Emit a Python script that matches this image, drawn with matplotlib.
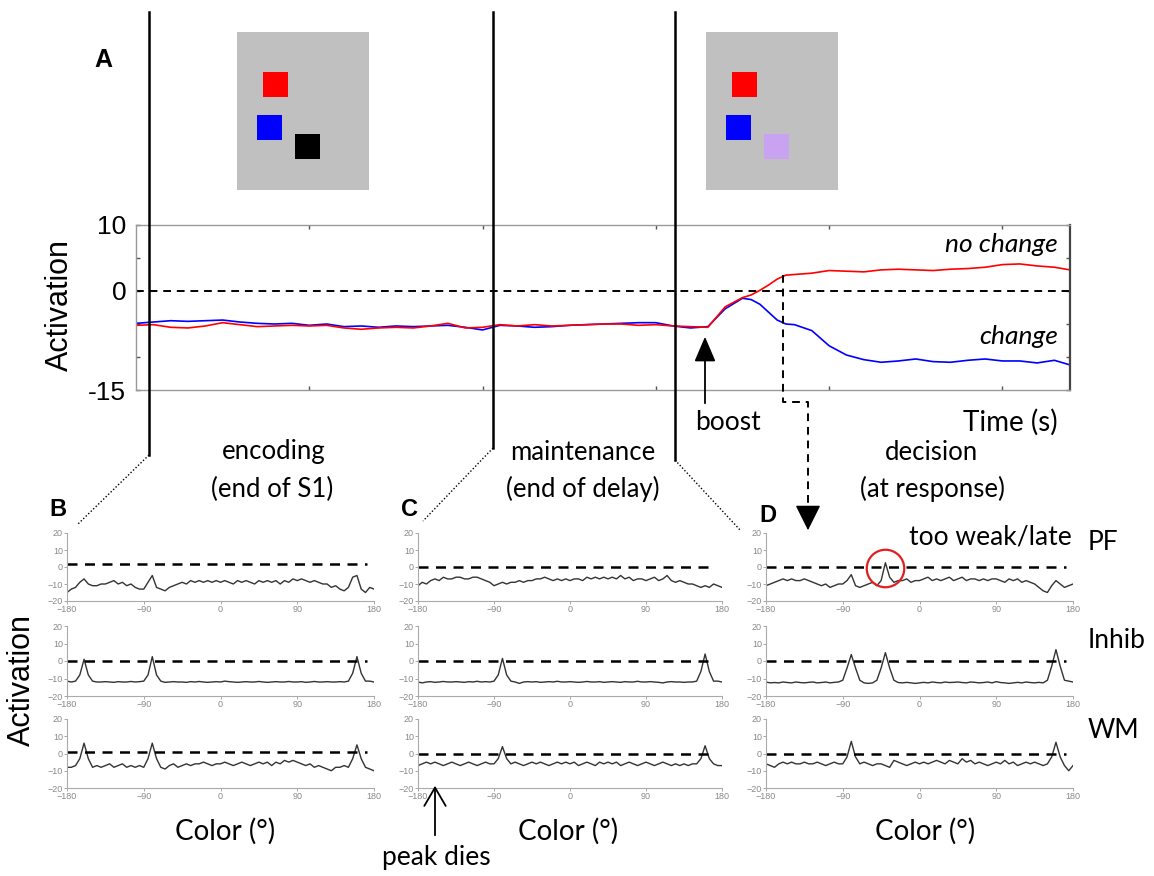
import matplotlib
matplotlib.use('Agg')
import matplotlib.pyplot as plt
from matplotlib.patches import Rectangle, FancyArrowPatch
from matplotlib.lines import Line2D

plt.rcParams['font.family'] = ['Liberation Sans', 'DejaVu Sans']

# ---------------- data ----------------
time_s = [0.0, 0.1, 0.2, 0.3, 0.4, 0.5, 0.6, 0.7, 0.8, 0.9,
          1.0, 1.1, 1.2, 1.3, 1.4, 1.5, 1.6, 1.7, 1.8, 1.9,
          2.0, 2.1, 2.2, 2.3, 2.4, 2.5, 2.6, 2.7, 2.8, 2.9,
          3.0, 3.1, 3.2, 3.3, 3.4, 3.5, 3.55, 3.6, 3.65, 3.7,
          3.75, 3.8, 3.9, 4.0, 4.1, 4.2, 4.3, 4.4, 4.5, 4.6,
          4.7, 4.8, 4.9, 5.0, 5.1, 5.2, 5.3, 5.39]
act_change = [-4.9, -4.7, -4.5, -4.6, -4.5, -4.4, -4.7, -4.9, -5.0, -4.9,
              -5.2, -5.0, -5.4, -5.3, -5.5, -5.3, -5.4, -5.3, -5.2, -5.5,
              -5.9, -5.2, -5.3, -5.5, -5.4, -5.2, -5.1, -5.0, -4.9, -4.8,
              -4.8, -5.3, -5.6, -5.4, -2.7, -1.1, -1.3, -2.0, -3.2, -4.4,
              -5.0, -5.1, -6.0, -8.3, -9.7, -10.4, -10.8, -10.6, -10.3, -10.7,
              -10.8, -10.5, -10.3, -10.6, -10.6, -10.9, -10.5, -11.2]
act_nochange = [-5.2, -5.1, -5.5, -5.6, -5.3, -4.8, -5.1, -5.4, -5.3, -5.2,
                -5.3, -5.2, -5.6, -5.8, -5.6, -5.5, -5.6, -5.3, -4.9, -5.6,
                -5.5, -5.1, -5.3, -5.1, -5.3, -5.2, -5.1, -5.0, -5.0, -5.2,
                -5.1, -5.3, -5.4, -5.5, -2.4, -1.0, -0.6, 0.1, 0.9, 1.8,
                2.4, 2.5, 2.7, 3.1, 3.0, 2.9, 3.2, 3.3, 3.2, 3.1,
                3.3, 3.4, 3.6, 4.0, 4.1, 3.8, 3.6, 3.2]

color_deg = list(range(-180, 185, 5))
color_ticks = [-180, -90, 0, 90, 180]
act_ticks = [-20, -10, 0, 10, 20]

B_PF = [-15, -13, -12, -9, -7, -10, -11, -11, -10,
        -10, -9, -8, -10, -9, -11, -10, -12, -13,
        -13, -9, -5, -12, -13, -14, -12, -11, -10,
        -9, -10, -8, -9, -8, -9, -8, -9, -8,
        -9, -8, -9, -10, -8, -9, -8, -9, -10,
        -8, -9, -8, -9, -8, -10, -8, -9, -7,
        -8, -7, -8, -9, -8, -9, -10, -10, -12,
        -11, -13, -14, -12, -6, -5, -13, -15, -12,
        -13]
B_Inhib = [-11.5, -12, -11.5, -8, 1, -8, -11.5, -12, -12,
           -11.8, -12, -12.2, -11.8, -12, -12, -11.7, -12, -11.8,
           -11.5, -8, 2.5, -8, -11.5, -12.2, -12, -11.8, -12,
           -12, -12.2, -11.8, -12, -11.7, -12, -12.2, -12, -11.8,
           -12, -11.5, -11.8, -12, -12.2, -12, -11.8, -12, -12,
           -11.7, -12, -12.2, -12, -11.8, -12, -12, -11.7, -12,
           -12, -11.8, -12.2, -12, -11.7, -12, -12, -11.8, -12,
           -12, -11.8, -12, -11.5, -7, 2.5, -7, -11.5, -11.5,
           -12]
B_WM = [-8, -8, -7, -3, 6, -3, -8, -7, -8,
        -7, -6, -8, -7, -6, -8, -7, -8, -7,
        -8, -3, 6, -3, -8, -9, -7, -6, -8,
        -7, -6, -7, -6, -6, -5, -6, -7, -6,
        -6, -5, -6, -7, -6, -5, -6, -7, -6,
        -5, -6, -5, -7, -5, -6, -4, -5, -4,
        -5, -6, -7, -6, -8, -7, -8, -9, -10,
        -8, -8, -7, -8, -3, 5, -3, -8, -9,
        -10]
C_PF = [-11, -9, -10, -8, -7, -8, -6, -7, -7,
        -6, -6, -7, -7, -6, -6, -7, -8, -9,
        -11, -10, -9, -10, -9, -9, -8, -9, -8,
        -8, -7, -7, -6, -7, -8, -7, -8, -7,
        -8, -7, -7, -8, -6, -7, -6, -7, -6,
        -7, -6, -7, -5, -7, -6, -8, -7, -7,
        -8, -7, -6, -8, -7, -5, -8, -9, -8,
        -9, -10, -10, -11, -12, -11, -12, -10, -11,
        -12]
C_Inhib = [-12, -12.5, -12, -11.8, -12.2, -12, -11.7, -12, -12,
           -11.8, -12, -12.2, -11.8, -12, -11.6, -12, -11.8, -12,
           -11.5, -8, 1.5, -8, -11.5, -12, -12.8, -12, -11.8,
           -12, -11.8, -12.2, -12, -11.8, -12, -11.6, -12, -12,
           -11.8, -12, -12.2, -12, -11.7, -12, -12, -11.8, -12.2,
           -12, -11.8, -12, -12.2, -11.8, -12, -12, -11.6, -12,
           -12, -11.8, -12, -12.2, -12.5, -12, -11.8, -12, -12,
           -12.2, -12, -12, -11.5, -6, 4, -6, -11.5, -11.5,
           -12]
C_WM = [-7, -6, -5, -6, -5, -6, -7, -6, -5,
        -6, -7, -6, -5, -6, -7, -6, -5, -6,
        -6, -3, 4, -3, -6, -5, -6, -7, -6,
        -5, -6, -5, -6, -7, -6, -5, -6, -5,
        -6, -5, -7, -6, -5, -6, -7, -5, -6,
        -5, -6, -5, -7, -6, -5, -6, -7, -6,
        -5, -6, -7, -6, -5, -6, -7, -6, -7,
        -6, -7, -6, -6, -3, 4.5, -3, -6, -7,
        -7]
D_PF = [-11, -10, -9, -8, -7, -8, -7, -8, -8,
        -7, -8, -9, -10, -11, -10, -12, -11, -10,
        -10, -8, -4.5, -11, -12, -11, -10, -9, -11,
        -8, 2.5, -6, -9, -8, -8, -7, -9, -8,
        -8, -7, -6, -8, -7, -8, -7, -6, -8,
        -7, -6, -8, -7, -7, -8, -7, -8, -7,
        -7, -8, -9, -7, -8, -7, -9, -8, -9,
        -10, -12, -14, -15, -11, -8, -10, -12, -11,
        -10]
D_Inhib = [-12, -12.5, -12.3, -12.5, -12, -12.3, -12.5, -12, -12.3,
           -12.5, -12.2, -12, -12.5, -12.3, -12, -12.5, -12.2, -12,
           -11, -4, 3.7, -4, -11, -12.5, -12.8, -12.5, -11,
           -4, 4.8, -4, -11, -12.3, -12.5, -12.2, -12.5, -12.8,
           -12.5, -12.2, -12.5, -12, -12.3, -12.5, -12, -12.3, -12.2,
           -12, -12.3, -12.5, -12, -12.2, -12.5, -12.3, -12, -12.5,
           -11.8, -12.3, -12.5, -12.8, -12.5, -12.2, -12.5, -12, -12.3,
           -12.5, -12.2, -12.5, -11, -3, 6.5, -3, -11, -11.5,
           -12]
D_WM = [-6, -7, -8, -6, -5, -6, -5, -6, -6,
        -5, -6, -6, -5, -6, -7, -6, -5, -6,
        -6, -2, 7, -2, -6, -5, -6, -7, -6,
        -6, -7, -8, -4, -5, -6, -7, -6, -5,
        -6, -5, -6, -5, -4, -5, -6, -4, -5,
        -6, -3, -5, -4, -6, -5, -6, -7, -6,
        -5, -6, -4, -6, -5, -7, -6, -5, -6,
        -5, -6, -7, -6, -2, 6.5, -2, -7, -10,
        -7]

field_names = ['PF', 'Inhib', 'WM']
columns = [[B_PF, B_Inhib, B_WM], [C_PF, C_Inhib, C_WM], [D_PF, D_Inhib, D_WM]]
thresholds = [[1.5, 0, 1], [0, 0, 0], [0, 0, 0]]
threshold_end = 172

# ---------------- layout helpers ----------------
W, H = 1154, 876
fig = plt.figure(figsize=(W / 100, H / 100), dpi=100)
CAL = ['Lato', 'DejaVu Sans']
ARI = ['Liberation Sans', 'DejaVu Sans']


def fx(x):
    return x / W


def fy(y):
    return 1 - y / H


def box(l, t, r, b):
    return [l / W, 1 - b / H, (r - l) / W, (b - t) / H]


def fline(xs, ys, **kw):
    fig.add_artist(Line2D([fx(v) for v in xs], [fy(v) for v in ys],
                          transform=fig.transFigure, **kw))


def ftext(x, y, s, **kw):
    fig.text(fx(x), fy(y), s, **kw)


def farrow(p0, p1, style, scale, lw):
    fig.add_artist(FancyArrowPatch((fx(p0[0]), fy(p0[1])), (fx(p1[0]), fy(p1[1])),
                                   transform=fig.transFigure, arrowstyle=style,
                                   mutation_scale=scale, color='black', lw=lw))


# ---------------- panel A ----------------
axA = fig.add_axes(box(136, 225, 1070, 390))
axA.plot(time_s, act_change, color='#0000FF', lw=1.2)
axA.plot(time_s, act_nochange, color='#FF0000', lw=1.2)
axA.axhline(0, color='black', lw=1.4, ls=(0, (4, 3)))
axA.set_xlim(0, 5.39)
axA.set_ylim(-15, 10)
axA.set_xticks([1, 2, 3, 4, 5])
axA.set_xticklabels([])
axA.set_yticks([-15, -10, -5, 0, 5, 10])
axA.set_yticklabels(['-15', '', '', '0', '', '10'])
axA.tick_params(direction='in', top=True, right=True, length=3, width=1,
                color='#555555', labelsize=19, pad=7, labelfontfamily='Liberation Sans')
for side in ['left', 'top', 'bottom']:
    axA.spines[side].set_color('#999999')
    axA.spines[side].set_linewidth(1.0)
axA.spines['right'].set_color('#444444')
axA.spines['right'].set_linewidth(1.6)

ftext(60, 305, 'Activation', rotation=90, ha='center', va='center', fontsize=22, family=ARI)
ftext(103, 60, 'A', ha='center', va='center', fontsize=18, fontweight='bold', family=ARI)
ftext(1058, 245, 'no change', ha='right', va='center', fontsize=19, style='italic', family=CAL)
ftext(1058, 336, 'change', ha='right', va='center', fontsize=19, style='italic', family=CAL)
ftext(728, 422, 'boost', ha='center', va='center', fontsize=19, family=CAL)
ftext(1010, 422, 'Time (s)', ha='center', va='center', fontsize=20, family=CAL)
ftext(274, 452, 'encoding', ha='center', va='center', fontsize=18.5, family=CAL)
ftext(272, 489, '(end of S1)', ha='center', va='center', fontsize=18.5, family=CAL)
ftext(583, 452, 'maintenance', ha='center', va='center', fontsize=18.5, family=CAL)
ftext(583, 489, '(end of delay)', ha='center', va='center', fontsize=18.5, family=CAL)
ftext(932, 452, 'decision', ha='center', va='center', fontsize=18.5, family=CAL)
ftext(932, 489, '(at response)', ha='center', va='center', fontsize=18.5, family=CAL)

# boost arrow
farrow((705, 406), (705, 334), '-|>,head_length=0.7,head_width=0.3', 22, 1.3)

# dashed path to panel D
fline([783, 783, 808, 808], [275, 402, 402, 514], color='black', lw=1.4, ls=(0, (4, 3)))
farrow((808, 512), (808, 533), '-|>,head_length=0.8,head_width=0.4', 20, 1.0)

# event lines and zoom connectors
fline([149, 149], [12, 455], color='black', lw=1.8)
fline([493, 493], [12, 448], color='black', lw=1.8)
fline([675, 675], [12, 460], color='black', lw=1.8)
fline([149, 78], [455, 524], color='black', lw=1.0, ls=(0, (1, 1.5)))
fline([493, 423], [448, 521], color='black', lw=1.0, ls=(0, (1, 1.5)))
fline([675, 741], [460, 531], color='black', lw=1.0, ls=(0, (1, 1.5)))

# stimulus displays
for x0, third in [(237, '#000000'), (706, '#C9A3F2')]:
    fig.add_artist(Rectangle((fx(x0), fy(190)), 132 / W, 158 / H,
                             transform=fig.transFigure, color='#C0C0C0', lw=0))
    for dx, ytop, c in [(26, 72, '#FF0000'), (20, 115, '#0000FF'), (58, 134, third)]:
        fig.add_artist(Rectangle((fx(x0 + dx), fy(ytop + 25)), 25 / W, 25 / H,
                                 transform=fig.transFigure, color=c, lw=0))

# ---------------- panels B, C, D ----------------
col_px = [(67, 374), (418, 722), (766, 1073)]
row_px = [(533, 601), (626, 696), (719, 788)]
for ci, (l, r) in enumerate(col_px):
    for ri, (t, b) in enumerate(row_px):
        ax = fig.add_axes(box(l, t, r, b))
        ax.plot(color_deg, columns[ci][ri], color='#333333', lw=1.0)
        ax.plot([-180, threshold_end], [thresholds[ci][ri]] * 2, color='black',
                lw=1.8, ls=(0, (4, 3)))
        ax.set_xlim(-180, 180)
        ax.set_ylim(-20, 20)
        ax.set_xticks(color_ticks)
        ax.set_yticks(act_ticks)
        ax.tick_params(length=2, width=0.6, color='#999999', labelcolor='#888888',
                       labelsize=6.5, pad=1)
        for side in ['top', 'right']:
            ax.spines[side].set_visible(False)
        for side in ['left', 'bottom']:
            ax.spines[side].set_color('#AAAAAA')
            ax.spines[side].set_linewidth(0.8)
        ax.patch.set_alpha(0)
        if ci == 2 and ri == 0:
            ax.plot([-40], [-0.5], marker='o', ms=27, mfc='none', mec='#E02020',
                    mew=1.6, clip_on=False)

for x, y, lab in [(58, 509, 'B'), (410, 509, 'C'), (768, 516, 'D')]:
    ftext(x, y, lab, ha='center', va='center', fontsize=17, fontweight='bold', family=ARI)
for x in [225, 568, 925]:
    ftext(x, 831, 'Color (°)', ha='center', va='center', fontsize=20, family=CAL)
ftext(22, 680, 'Activation', rotation=90, ha='center', va='center', fontsize=22, family=ARI)
ftext(1088, 543, 'PF', ha='left', va='center', fontsize=19, family=CAL)
ftext(1088, 640, 'Inhib', ha='left', va='center', fontsize=19, family=CAL)
ftext(1088, 731, 'WM', ha='left', va='center', fontsize=19, family=CAL)
ftext(990, 537, 'too weak/late', ha='center', va='center', fontsize=19, family=CAL)
ftext(436, 858, 'peak dies', ha='center', va='center', fontsize=19, family=CAL)
farrow((435, 838), (435, 783), '->,head_length=0.6,head_width=0.35', 22, 1.3)

fig.savefig('out.png', dpi=100)
